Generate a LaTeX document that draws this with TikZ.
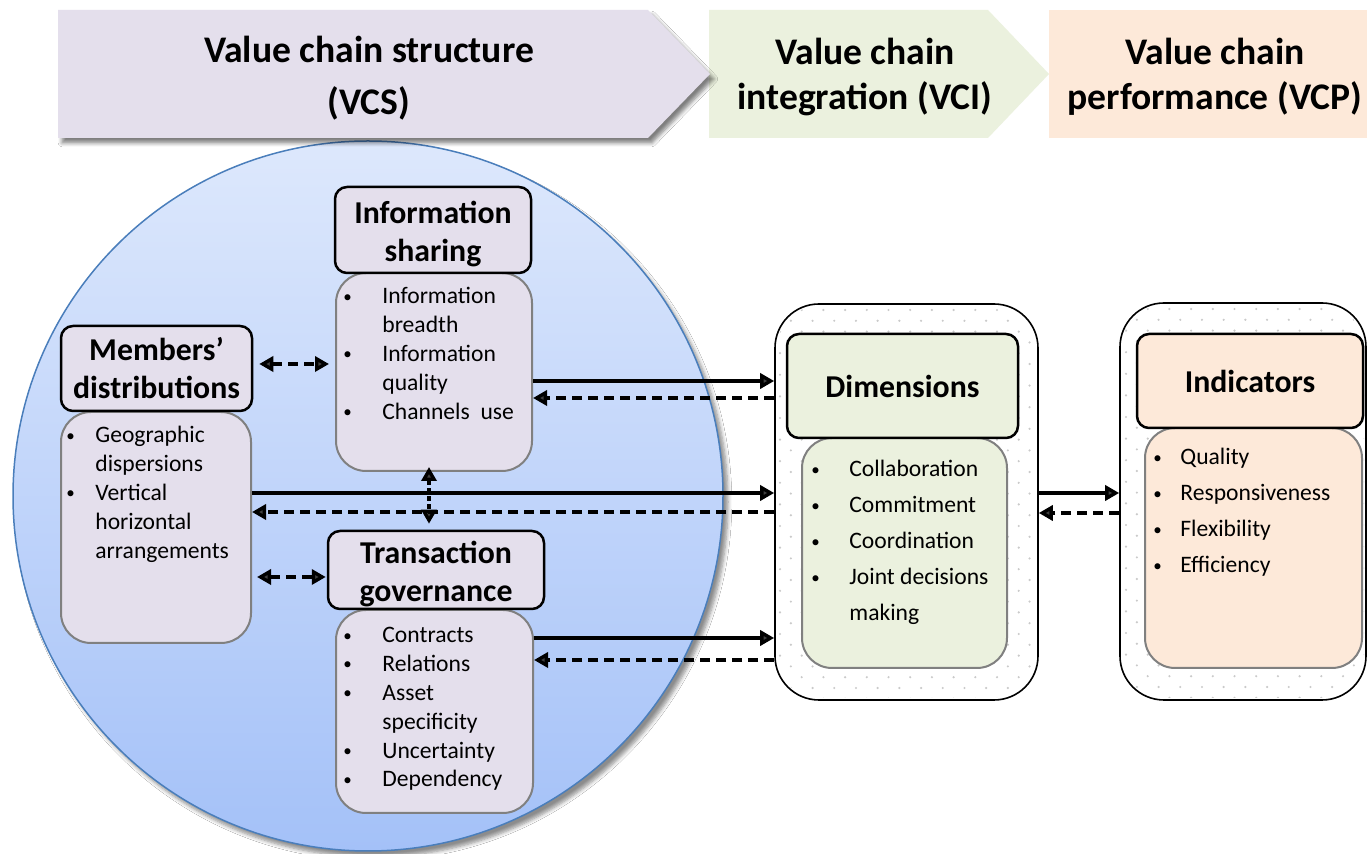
\documentclass[tikz,border=0pt]{standalone}
\usepackage{fontspec}
\setmainfont{Carlito}
\usetikzlibrary{arrows.meta,shadows.blur,calc}
\definecolor{lav}{HTML}{E4DFEC}
\definecolor{lgreen}{HTML}{EBF1DE}
\definecolor{peach}{HTML}{FDE9D9}
\definecolor{bodyline}{HTML}{808080}
\definecolor{circtop}{HTML}{DDE8FC}
\definecolor{circbot}{HTML}{A4C1F8}
\definecolor{circline}{HTML}{4A7EBB}
\definecolor{dotgray}{HTML}{CACACA}
\newlength\bw
\newcommand\bu{\makebox[\bw][l]{\raisebox{0.9pt}{\fontsize{8.5}{8.5}\selectfont\textbullet}}}
\newcommand\nb{\hspace*{\bw}}
\newcommand\lift{\rule{0pt}{15pt}}
\begin{document}
\begin{tikzpicture}[x=0.5pt,y=-0.5pt,
  headbox/.style={draw=black, line width=1.25pt, rounded corners=6pt, align=center,
    inner sep=0pt, font=\bfseries\fontsize{15.9}{19}\selectfont},
  bodybox/.style={draw=bodyline, line width=1pt, rounded corners=15pt, inner sep=0pt},
  outerbox/.style={draw=black, line width=0.8pt, rounded corners=22pt, fill=white, inner sep=0pt},
  bannertext/.style={anchor=base, inner sep=0pt, font=\bfseries\fontsize{18.8}{26}\selectfont},
  itemtext/.style={anchor=base west, inner sep=0pt, font=\fontsize{11.8}{14.4}\selectfont},
  flow/.style={line width=1.7pt, -{Triangle[length=7pt,width=7.5pt]}},
  feedback/.style={line width=1.7pt, dash pattern=on 5pt off 3pt, -{Triangle[length=7pt,width=7.5pt]}},
  link/.style={line width=1.7pt, dash pattern=on 5pt off 3pt,
    {Triangle[length=7pt,width=7.5pt]}-{Triangle[length=7pt,width=7.5pt]}},
  vlink/.style={line width=1.7pt, dash pattern=on 2.5pt off 1.5pt,
    {Triangle[length=7pt,width=7.5pt]}-{Triangle[length=7pt,width=7.5pt]}},
]
\useasboundingbox (0,0) rectangle (1367,854);
\fill[white] (0,0) rectangle (1367,854);

% value chain structure area
\node[circle, minimum size=355pt, inner sep=0pt, draw=circline, line width=0.75pt,
  top color=circtop, bottom color=circbot,
  blur shadow={shadow xshift=2.5pt, shadow yshift=-3pt, shadow blur steps=6, shadow opacity=45}]
  (vcsarea) at (368,496) {};

% stage banners
\fill[lgreen] (709,10) -- (988,10) -- (1049,74) -- (988,138) -- (709,138) -- cycle;
\fill[peach] (1049,10) rectangle (1367,138);
\fill[lav, blur shadow={shadow xshift=2pt, shadow yshift=-2.5pt, shadow blur steps=5, shadow opacity=50}]
  (58,10) -- (648,10) -- (710,74) -- (648,138) -- (58,138) -- cycle;
\node[bannertext] (vcslabel) at (369,63)
  {\begin{tabular}[t]{@{}c@{}}Value chain structure\\(VCS)\end{tabular}};
\node[bannertext, font=\bfseries\fontsize{18.8}{22.5}\selectfont] (vcilabel) at (865,65)
  {\begin{tabular}[t]{@{}c@{}}Value chain\\integration (VCI)\end{tabular}};
\node[bannertext, font=\bfseries\fontsize{18.8}{22.5}\selectfont] (vcplabel) at (1215,65)
  {\begin{tabular}[t]{@{}c@{}}Value chain\\performance (VCP)\end{tabular}};

% structure components
\node[bodybox, fill=lav, minimum width=98pt, minimum height=99pt] (infobody) at (434,372) {};
\node[headbox, fill=lav, minimum width=98pt, minimum height=43pt] (infohead) at (433,230) {\lift Information\\sharing};
\node[itemtext] (infotext) at (343,304) {\setlength\bw{19.5pt}\begin{tabular}[t]{@{}l@{}}
  \bu Information\\ \nb breadth\\ \bu Information\\ \nb quality\\ \bu Channels\ \ use\end{tabular}};

\node[bodybox, fill=lav, minimum width=95pt, minimum height=115.5pt] (membbody) at (156,527.5) {};
\node[headbox, fill=lav, minimum width=95.5pt, minimum height=42.5pt] (membhead) at (156.5,368.5) {Members’\\distributions};
\node[itemtext] (membtext) at (66,443) {\setlength\bw{14.5pt}\begin{tabular}[t]{@{}l@{}}
  \bu Geographic\\ \nb dispersions\\ \bu Vertical\\ \nb horizontal\\ \nb arrangements\end{tabular}};

\node[bodybox, fill=lav, minimum width=98.5pt, minimum height=101.5pt] (transbody) at (434.5,711.5) {};
\node[headbox, fill=lav, minimum width=108pt, minimum height=39pt] (transhead) at (436,570) {\lift Transaction\\governance};
\node[itemtext] (transtext) at (343,643) {\setlength\bw{19.5pt}\begin{tabular}[t]{@{}l@{}}
  \bu Contracts\\ \bu Relations\\ \bu Asset\\ \nb specificity\\ \bu Uncertainty\\ \bu Dependency\end{tabular}};

% integration block
\node[outerbox, minimum width=131.5pt, minimum height=198pt] (dimouter) at (906.5,502) {};
\begin{scope}
  \clip[rounded corners=21pt] (777,306) rectangle (1036,698);
  \foreach \r in {0,...,36} {
    \foreach \c in {0,...,12} {
      \fill[dotgray] ({780+\c*21.7+mod(\r,2)*10.85},{310+\r*10.8}) circle[radius=0.6pt];
    }
  }
\end{scope}
\node[bodybox, fill=lgreen, minimum width=102.5pt, minimum height=115pt] (dimbody) at (904.5,553) {};
\node[headbox, fill=lgreen, minimum width=115.5pt, minimum height=52pt] (dimhead) at (902.5,386) {Dimensions};
\node[itemtext, font=\fontsize{11.8}{18}\selectfont] (dimtext) at (811,477) {\setlength\bw{19pt}\begin{tabular}[t]{@{}l@{}}
  \bu Collaboration\\ \bu Commitment\\ \bu Coordination\\ \bu Joint decisions\\ \nb making\end{tabular}};

% performance block
\node[outerbox, minimum width=123pt, minimum height=198.5pt] (indouter) at (1243,501.5) {};
\begin{scope}
  \clip[rounded corners=21pt] (1122,305) rectangle (1364,698);
  \foreach \r in {0,...,36} {
    \foreach \c in {0,...,11} {
      \fill[dotgray] ({1126+\c*21.7+mod(\r,2)*10.85},{309+\r*10.8}) circle[radius=0.6pt];
    }
  }
\end{scope}
\node[bodybox, fill=peach, minimum width=108.5pt, minimum height=120pt] (indbody) at (1253.5,548) {};
\node[headbox, fill=peach, minimum width=113pt, minimum height=47pt] (indhead) at (1250,381) {Indicators};
\node[itemtext, font=\fontsize{11.8}{18}\selectfont] (indtext) at (1153,465) {\setlength\bw{13.5pt}\begin{tabular}[t]{@{}l@{}}
  \bu Quality\\ \bu Responsiveness\\ \bu Flexibility\\ \bu Efficiency\end{tabular}};

% links inside the structure
\draw[link, shorten <=3pt, shorten >=3pt] ([yshift=2.25pt]membhead.east) -- ([yshift=2.25pt]membhead.east -| infobody.west);
\draw[link, shorten <=2.5pt, shorten >=0.5pt] ([yshift=-3.5pt]transhead.west -| membbody.east) -- ([yshift=-3.5pt]transhead.west);
\draw[vlink, shorten <=-2.5pt, shorten >=3pt] ([xshift=-2.5pt]infobody.south) -- ([xshift=-2.5pt]infobody.south |- transhead.north);

% structure -> integration
\draw[flow] ([yshift=-4.5pt]infobody.east) -- ([yshift=-4.5pt]infobody.east -| dimouter.west);
\draw[feedback] ([yshift=-13pt]infobody.east -| dimouter.west) -- ([yshift=-13pt]infobody.east);
\draw[flow] ([yshift=17.25pt]membbody.east) -- ([yshift=17.25pt]membbody.east -| dimouter.west);
\draw[feedback] ([yshift=7.75pt]membbody.east -| dimouter.west) -- ([yshift=7.75pt]membbody.east);
\draw[flow] ([yshift=36.75pt]transbody.east) -- ([yshift=36.75pt]transbody.east -| dimouter.west);
\draw[feedback] ([yshift=25.75pt]transbody.east -| dimouter.west) -- ([yshift=25.75pt]transbody.east);

% integration -> performance
\draw[flow] ([yshift=4.5pt]dimouter.east) -- ([yshift=4.5pt]dimouter.east -| indouter.west);
\draw[feedback] ([yshift=-5.5pt]dimouter.east -| indouter.west) -- ([yshift=-5.5pt]dimouter.east);
\end{tikzpicture}
\end{document}
